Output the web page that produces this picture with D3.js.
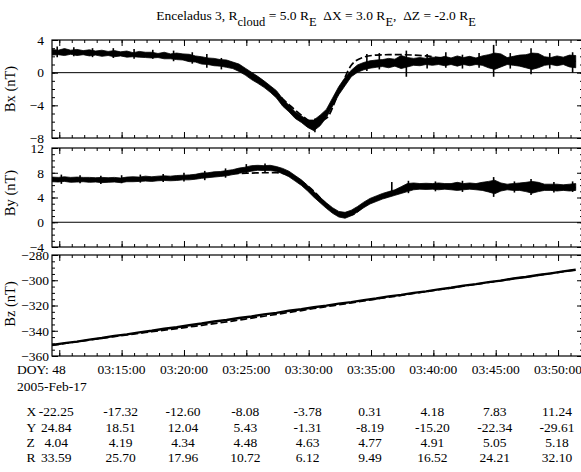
<!DOCTYPE html>
<html><head><meta charset="utf-8">
<script src="https://cdn.jsdelivr.net/npm/d3@7"></script>
<style>
body{margin:0;background:#fff}
svg{display:block}
svg text{font-family:'Liberation Serif','DejaVu Serif',serif !important;fill:#000}
</style>
</head><body>
<svg id="chart" width="581" height="472" font-family="Liberation Serif"></svg>
<script>
// ---------------- DATA ----------------
const timeDomain = ["03:09:25", "03:52:00"];
const obsStart = "03:09:25", obsStepSec = 30;   // observed samples (min/max envelope)
const modStart = "03:09:25", modStepSec = 60;   // model samples

const bxObsLo = [2.15,2.2,2.1,2.25,2.1,2.2,2.05,2.15,2.0,2.1,1.95,2.05,1.9,1.95,1.9,1.85,1.8,1.85,1.7,1.7,1.6,1.55,1.35,1.3,1.05,1.0,0.85,0.8,0.65,0.5,0.15,-0.3,-0.85,-1.3,-1.8,-2.4,-3.1,-4.1,-4.8,-5.6,-6.1,-6.7,-7.1,-6.5,-5.5,-4.1,-2.7,-1.6,-0.5,0.05,0.35,0.55,0.65,0.75,0.6,0.8,0.5,0.7,0.9,0.85,1.0,0.9,1.0,0.85,1.0,0.8,1.0,0.85,1.0,0.9,0.6,0.4,0.7,1.0,0.9,0.8,0.6,0.4,0.6,0.9,1.0,0.85,1.0,0.7,0.6];
const bxObsHi = [2.85,2.75,2.95,2.75,2.85,2.7,2.8,2.65,2.75,2.6,2.7,2.55,2.65,2.45,2.6,2.5,2.5,2.35,2.5,2.3,2.4,2.3,2.25,2.05,1.95,1.8,1.75,1.6,1.55,1.3,1.05,0.55,0.05,-0.45,-1.0,-1.6,-2.2,-3.2,-4.0,-4.8,-5.3,-5.8,-5.8,-5.2,-4.5,-3.1,-1.7,-0.6,0.3,0.95,1.25,1.45,1.55,1.6,1.75,1.65,2.1,1.85,1.75,1.85,1.75,1.9,1.8,2.0,1.8,2.05,1.85,2.0,1.8,2.05,2.2,2.4,2.3,1.85,2.0,2.15,2.2,2.4,2.35,1.95,1.85,2.05,1.9,2.15,2.1];
const bxModel = [2.6,2.55,2.5,2.45,2.4,2.35,2.3,2.25,2.15,2.05,1.95,1.8,1.6,1.35,1.0,0.5,-0.2,-1.2,-2.5,-3.9,-5.2,-6.1,-5.6,-2.4,0.9,1.9,2.15,2.2,2.2,2.15,2.05,1.85,1.65,1.5,1.45,1.45,1.45,1.45,1.45,1.4,1.4,1.4,1.4];
// short-lived excursions of the observed Bx: [time, min, max]
const bxSpikes = [["03:09:50",1.9,3.2],["03:11:10",2.0,3.1],["03:12:40",1.9,3.0],["03:14:20",1.8,3.0],["03:16:00",1.7,2.9],["03:17:30",1.7,2.8],["03:19:10",1.4,2.7],["03:20:40",1.1,2.5],["03:21:50",0.6,2.3],["03:23:00",0.4,1.8],["03:30:30",-7.3,-5.6],["03:34:40",0.2,2.3],["03:35:40",0.4,2.4],["03:37:50",-0.5,2.7],["03:39:30",0.5,2.3],["03:41:00",0.6,2.5],["03:42:20",0.5,2.2],["03:43:40",0.6,2.4],["03:44:50",-0.5,3.4],["03:46:10",0.5,2.4],["03:47:50",-0.2,3.0],["03:49:20",0.5,2.4],["03:51:10",0.0,2.5]];

const byObsLo = [6.55,6.5,6.6,6.45,6.5,6.55,6.45,6.5,6.4,6.45,6.5,6.4,6.55,6.55,6.6,6.65,6.6,6.7,6.75,6.7,6.75,6.85,6.85,6.95,7.1,7.2,7.3,7.4,7.5,7.7,7.9,8.1,8.25,8.4,8.35,8.35,8.2,7.85,7.35,6.65,5.95,5.05,4.05,3.15,2.25,1.45,0.85,0.65,1.05,1.65,2.35,2.95,3.35,3.75,4.05,4.35,4.65,4.95,5.25,5.35,5.3,5.35,5.25,5.35,5.25,5.15,5.25,5.35,5.25,5.15,4.9,4.6,5.05,5.25,5.15,5.15,4.95,4.7,4.95,5.15,5.15,5.05,5.15,5.05,5.15];
const byObsHi = [7.3,7.25,7.35,7.25,7.3,7.25,7.25,7.2,7.25,7.2,7.25,7.15,7.3,7.35,7.3,7.45,7.35,7.45,7.5,7.45,7.55,7.6,7.65,7.75,7.95,8.0,8.15,8.2,8.35,8.5,8.75,8.9,9.15,9.2,9.15,9.2,9.0,8.7,8.25,7.55,6.85,5.95,4.95,4.05,3.15,2.35,1.75,1.6,1.95,2.55,3.25,3.85,4.25,4.65,4.95,5.25,5.75,6.25,6.35,6.25,6.3,6.25,6.35,6.25,6.25,6.45,6.25,6.35,6.25,6.45,6.6,6.8,6.35,6.15,6.25,6.35,6.45,6.6,6.45,6.15,6.15,6.15,6.05,6.15,6.25];
const byModel = [6.9,6.9,6.9,6.85,6.85,6.85,6.9,6.9,7.0,7.05,7.15,7.3,7.5,7.65,7.8,7.9,7.95,8.0,8.0,7.6,6.6,5.0,2.9,1.4,1.2,2.6,3.8,4.6,5.2,5.6,5.75,5.8,5.8,5.8,5.75,5.75,5.7,5.7,5.7,5.65,5.65,5.6,5.6];
const bySpikes = [["03:10:10",6.2,7.7],["03:11:40",6.3,7.6],["03:13:20",6.2,7.5],["03:15:00",6.3,7.6],["03:16:30",6.4,7.7],["03:18:20",6.5,7.8],["03:20:00",6.6,8.0],["03:21:40",6.8,8.3],["03:23:20",7.2,8.7],["03:25:00",7.9,9.4],["03:26:30",8.0,9.5],["03:36:40",4.6,6.5],["03:38:00",4.7,6.7],["03:40:10",5.0,6.6],["03:42:20",4.9,6.7],["03:44:50",4.1,7.3],["03:46:30",4.8,6.6],["03:47:50",4.4,7.0],["03:49:40",4.8,6.5],["03:51:10",4.9,6.6]];

const bzObs = [-351.3,-349.8,-348.6,-347.0,-345.7,-344.1,-342.9,-341.3,-340.0,-338.4,-337.2,-335.6,-334.3,-332.7,-331.5,-329.9,-328.7,-327.0,-325.8,-324.2,-323.0,-321.4,-320.1,-318.5,-317.3,-315.7,-314.5,-312.8,-311.6,-310.0,-308.8,-307.2,-305.9,-304.3,-303.1,-301.5,-300.3,-298.6,-297.4,-295.8,-294.6,-293.0,-291.7];
const bzModel = [-351.5,-350.1,-348.7,-347.3,-345.9,-344.6,-343.3,-342.0,-340.8,-339.5,-338.3,-337.0,-335.7,-334.3,-333.0,-331.5,-330.0,-328.5,-327.0,-325.5,-324.0,-322.4,-320.9,-319.4,-317.9,-316.4,-314.9,-313.4,-312.0,-310.5,-309.0,-307.5,-306.1,-304.6,-303.2,-301.7,-300.3,-298.8,-297.4,-296.0,-294.6,-293.2,-291.8];

const bxTicks = [4, 0, -4, -8];
const byTicks = [12, 8, 4, 0, -4];
const bzTicks = [-280, -300, -320, -340, -360];

const majorTimes = ["03:10:00","03:15:00","03:20:00","03:25:00","03:30:00","03:35:00","03:40:00","03:45:00","03:50:00"];
const timeLabels = ["DOY: 48","03:15:00","03:20:00","03:25:00","03:30:00","03:35:00","03:40:00","03:45:00","03:50:00"];
const dateLabel = "2005-Feb-17";
const ephemNames = ["X","Y","Z","R"];
const ephemX = ["-22.25","-17.32","-12.60","-8.08","-3.78","0.31","4.18","7.83","11.24"];
const ephemY = ["24.84","18.51","12.04","5.43","-1.31","-8.19","-15.20","-22.34","-29.61"];
const ephemZ = ["4.04","4.19","4.34","4.48","4.63","4.77","4.91","5.05","5.18"];
const ephemR = ["33.59","25.70","17.96","10.72","6.12","9.49","16.52","24.21","32.10"];

// ---------------- DRAW ----------------
const FONT = "'Liberation Serif','DejaVu Serif',serif";
const parse = d3.timeParse("%H:%M:%S");
const svg = d3.select("#chart");
const L = 52, R = 583;
const x = d3.scaleTime().domain(timeDomain.map(parse)).range([L, R]);

const obsTimes = n => d3.range(n).map(i => new Date(+parse(obsStart) + i*obsStepSec*1000));
const modTimes = n => d3.range(n).map(i => new Date(+parse(modStart) + i*modStepSec*1000));

const minorTimes = d3.timeMinute.range(parse("03:09:00"), parse("03:52:30")).filter(t => t >= x.domain()[0] && t <= x.domain()[1]);
const majorT = majorTimes.map(parse);

const panels = [
  {name:"Bx (nT)", top:40, bottom:138, domain:[-8,4], ticks:bxTicks, minor:1, lo:bxObsLo, hi:bxObsHi, spikes:bxSpikes, model:bxModel, zero:true, pad:8, labelY:89},
  {name:"By (nT)", top:148, bottom:247, domain:[-4,12], ticks:byTicks, minor:1, lo:byObsLo, hi:byObsHi, spikes:bySpikes, model:byModel, zero:true, pad:8, labelY:193},
  {name:"Bz (nT)", top:255, bottom:356, domain:[-360,-280], ticks:bzTicks, minor:5, line:bzObs, model:bzModel, zero:false, pad:3, labelY:304}
];

const defs = svg.append("defs");

function txt(sel, size) {
  return sel.attr("font-size", size).style("font-family", FONT).attr("fill", "#000");
}

panels.forEach((p, k) => {
  const y = d3.scaleLinear().domain(p.domain).range([p.bottom, p.top]);
  const g = svg.append("g");
  const clipId = "clip" + k;
  defs.append("clipPath").attr("id", clipId).append("rect")
    .attr("x", L).attr("y", p.top).attr("width", R - L).attr("height", p.bottom - p.top);
  const data = g.append("g").attr("clip-path", `url(#${clipId})`);

  if (p.zero) {
    data.append("line").attr("x1", L).attr("x2", R).attr("y1", y(0)).attr("y2", y(0))
      .attr("stroke", "#000").attr("stroke-width", 1);
  }
  const mt = modTimes(p.model.length);
  data.append("path")
    .datum(p.model.map((v, i) => [mt[i], v]))
    .attr("fill", "none").attr("stroke", "#000").attr("stroke-width", 1.7)
    .attr("stroke-dasharray", "7,3")
    .attr("d", d3.line().x(d => x(d[0])).y(d => y(d[1])).curve(d3.curveMonotoneX));
  if (p.lo) {
    const ot = obsTimes(p.lo.length);
    const env = p.lo.map((v, i) => ({t: ot[i], lo: v, hi: p.hi[i]}));
    data.append("path").datum(env)
      .attr("fill", "#000").attr("stroke", "#000").attr("stroke-width", 0.8)
      .attr("d", d3.area().x(d => x(d.t)).y0(d => y(d.lo)).y1(d => y(d.hi)));
    data.selectAll("line.spike").data(p.spikes).join("line").attr("class", "spike")
      .attr("x1", d => x(parse(d[0]))).attr("x2", d => x(parse(d[0])))
      .attr("y1", d => y(d[1])).attr("y2", d => y(d[2]))
      .attr("stroke", "#000").attr("stroke-width", 1.6);
  } else {
    const lt = modTimes(p.line.length);
    data.append("path").datum(p.line.map((v, i) => [lt[i], v]))
      .attr("fill", "none").attr("stroke", "#000").attr("stroke-width", 2.4)
      .attr("d", d3.line().x(d => x(d[0])).y(d => y(d[1])));
  }

  const clean = a => { a.select(".domain").remove(); a.attr("font-family", null).attr("font-size", null);
    a.selectAll("line").attr("stroke", "#000").attr("stroke-width", 1); return a; };
  const addAx = (axis, ty) => clean(g.append("g").attr("transform", `translate(0,${ty})`).call(axis));
  addAx(d3.axisTop(x).tickValues(minorTimes).tickSize(-3).tickFormat(""), p.top);
  addAx(d3.axisTop(x).tickValues(majorT).tickSize(-6).tickFormat(""), p.top);
  addAx(d3.axisBottom(x).tickValues(minorTimes).tickSize(-3).tickFormat(""), p.bottom);
  addAx(d3.axisBottom(x).tickValues(majorT).tickSize(-6).tickFormat(""), p.bottom);

  const minorVals = d3.range(p.domain[0], p.domain[1] + 1e-9, p.minor);
  const addY = (axis, tx) => clean(g.append("g").attr("transform", `translate(${tx},0)`).call(axis));
  addY(d3.axisLeft(y).tickValues(minorVals).tickSize(-3).tickFormat(""), L);
  addY(d3.axisRight(y).tickValues(minorVals).tickSize(-3).tickFormat(""), R);
  addY(d3.axisRight(y).tickValues(p.ticks).tickSize(-6).tickFormat(""), R);
  const ly = addY(d3.axisLeft(y).tickValues(p.ticks).tickSize(-6).tickPadding(p.pad).tickFormat(d3.format("d")), L);
  txt(ly.selectAll("text"), 13.5);

  g.append("rect").attr("x", L).attr("y", p.top).attr("width", R - L).attr("height", p.bottom - p.top)
    .attr("fill", "none").attr("stroke", "#000").attr("stroke-width", 1.2);

  txt(svg.append("text").attr("transform", `translate(15,${p.labelY}) rotate(-90)`)
    .attr("text-anchor", "middle"), 14.5).text(p.name);
});

// title
const title = txt(svg.append("text").attr("x", 316).attr("y", 20).attr("text-anchor", "middle"), 13.5)
  .attr("xml:space", "preserve").style("white-space", "pre");
const parts = [["Enceladus 3, R",0],["cloud",1],[" = 5.0 R",0],["E",1],["  \u0394X = 3.0 R",0],["E",1],[",  \u0394Z = -2.0 R",0],["E",1]];
let cur = 0;
parts.forEach(([s, sub]) => {
  const shift = sub ? 6 : 0;
  title.append("tspan").attr("dy", shift - cur).attr("font-size", sub ? 12.5 : 13.5).text(s);
  cur = shift;
});

// bottom labels
const fs = 13.5;
timeLabels.forEach((s, i) => {
  const t = txt(svg.append("text").attr("y", 374), fs).text(s);
  if (i === 0) t.attr("x", 17).attr("text-anchor", "start");
  else t.attr("x", x(majorT[i])).attr("text-anchor", "middle");
});
txt(svg.append("text").attr("x", 17).attr("y", 391), fs).text(dateLabel);

const ephem = [ephemX, ephemY, ephemZ, ephemR];
const rowY = [416, 431.5, 446.5, 462];
ephem.forEach((row, r) => {
  txt(svg.append("text").attr("x", 26.5).attr("y", rowY[r]), fs).text(ephemNames[r]);
  row.forEach((s, i) => {
    const cx = i === 0 ? x(majorT[0]) - 3 : x(majorT[i]) - 1;
    txt(svg.append("text").attr("x", cx).attr("y", rowY[r]).attr("text-anchor", "middle"), fs).text(s);
  });
});
</script>
</body></html>
